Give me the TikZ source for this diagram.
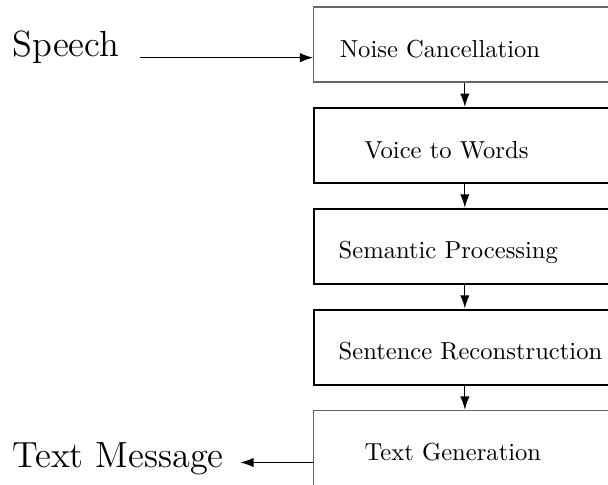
\documentclass[tikz,border=0pt]{standalone}
\usepackage{tikz}
\usetikzlibrary{positioning,arrows.meta}

\begin{document}
\begin{tikzpicture}[node distance=41pt,on grid,>={Latex[length=5.4pt,width=3.8pt]},
    stage/.style={draw,line width=0.8pt,minimum width=122.8pt,minimum height=30.5pt},
    faint/.style={draw=black!60,line width=0.5pt},
    caption/.style={anchor=base west,inner sep=0pt},
    io/.style={anchor=base west,inner sep=0pt,font=\fontsize{14.8}{18}\selectfont}]
    \useasboundingbox (0,0) rectangle (247.2pt,-196.9pt);
    \node[stage,faint] (noise) at (189pt,-18.1pt) {};
    \node[stage] (voice) [below = of noise] {};
    \node[stage] (semantic) [below = of voice] {};
    \node[stage] (sentence) [below = of semantic] {};
    \node[stage,faint] (textgen) [below = of sentence] {};
    \node[caption] (noisetxt) at ([xshift=10.6pt,yshift=-5.2pt]noise.west) {Noise Cancellation};
    \node[caption] (voicetxt) at ([xshift=20.7pt,yshift=-5.2pt]voice.west) {Voice to Words};
    \node[caption] (semantictxt) at ([xshift=10.3pt,yshift=-5.2pt]semantic.west) {Semantic Processing};
    \node[caption] (sentencetxt) at ([xshift=10.3pt,yshift=-5.2pt]sentence.west) {Sentence Reconstruction};
    \node[caption] (textgentxt) at ([xshift=20.7pt,yshift=-5.2pt]textgen.west) {Text Generation};
    \node[io] (speech) at (4.9pt,-23.05pt) {Speech};
    \node[io] (message) at (4.9pt,-190.2pt) {Text Message};
    \path[->,line width=0.5pt]
    ([xshift=8pt,yshift=-0.4pt]speech.base east)
    edge ([yshift=-0.4pt]speech.base east -| noise.west)
    (noise.south) edge (voice.north)
    (voice.south) edge (semantic.north)
    (semantic.south) edge (sentence.north)
    (sentence.south) edge (textgen.north)
    (textgen.west |- message.mid east)
    edge ([xshift=6.5pt]message.mid east)
    ;
\end{tikzpicture}
\end{document}
